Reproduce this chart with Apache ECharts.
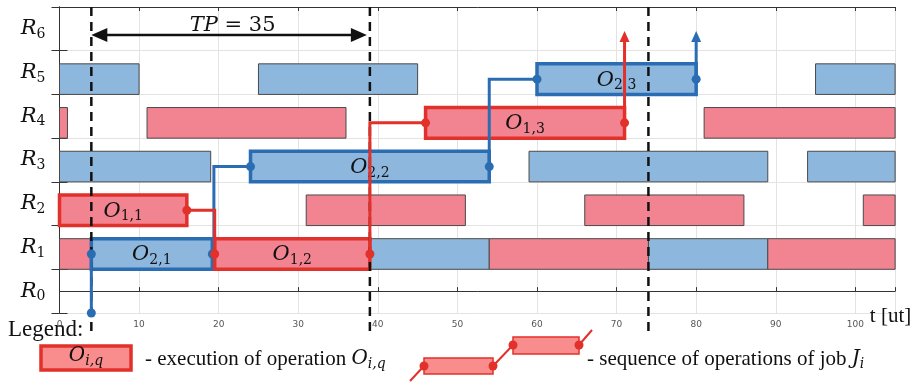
<!DOCTYPE html>
<html><head><meta charset="utf-8">
<script src="https://cdn.jsdelivr.net/npm/echarts@6/dist/echarts.min.js"></script>
<style>html,body{margin:0;padding:0;background:#fff}#c{width:914px;height:383px}</style>
</head><body><div id="c"></div>
<script>
// ---------- data ----------
const resources = ['R0','R1','R2','R3','R4','R5','R6'];
const xMin = 0, xMax = 105, xStep = 10;
// background operations: [resource row, start, end]
const blueOps = [[5,0,10],[5,25,45],[5,95,105],[3,0,19],[3,59,89],[3,94,105],[1,39,54],[1,74,89]];
const redOps  = [[4,0,1],[4,11,36],[4,81,105],[2,31,51],[2,66,86],[2,101,105],[1,0,4],[1,54,74],[1,89,105]];
// highlighted jobs: operations [row, start, end]
const job1Ops = [[2,0,16],[1,19.5,39],[4,46,71]];
const job1Names = ['1,1','1,2','1,3'];
const job1Transfer = [19.5, 39];   // time of vertical transfer between operations
const job1Release = null;
const job2Ops = [[1,4,19.2],[3,24,54],[5,60,80]];
const job2Names = ['2,1','2,2','2,3'];
const job2Transfer = [19.4, 54];
const job2Release = 4;
const periodMarks = [4, 39, 74];
const tpSpan = [4, 39];
const tpValue = 35;

// ---------- styles ----------
const BLUE = '#8db7dd', RED = '#f28391', EDGE = '#4a4a4a';
const BLUE_HI = '#2b6db3', RED_HI = '#e2312a';
const MATH = 'DejaVu Serif', TEXT = 'Liberation Serif';
const BAR_LO = -0.5, BAR_HI = 0.2, CENTER = -0.15;

function baseBar(fill) {
  return function (params, api) {
    const r = api.value(0), s = api.value(1), e = api.value(2);
    const a = api.coord([s, r + BAR_LO]), b = api.coord([e, r + BAR_HI]);
    return { type: 'rect', shape: { x: a[0], y: b[1], width: b[0] - a[0], height: a[1] - b[1] },
      style: { fill: fill, stroke: EDGE, lineWidth: 1 } };
  };
}
function mathRich(big, small) {
  return {
    o: { fontFamily: MATH, fontStyle: 'italic', fontSize: big, lineHeight: big + 4, fill: '#111', color: '#111' },
    s: { fontFamily: MATH, fontSize: small, lineHeight: 2, verticalAlign: 'bottom', fill: '#111', color: '#111' },
    si: { fontFamily: MATH, fontStyle: 'italic', fontSize: small, lineHeight: 2, verticalAlign: 'bottom', fill: '#111', color: '#111' }
  };
}
function opBar(fill, stroke, names) {
  return function (params, api) {
    const r = api.value(0), s = api.value(1), e = api.value(2);
    const a = api.coord([s, r + BAR_LO]), b = api.coord([e, r + BAR_HI]);
    const c = api.coord([(s + e) / 2, r + CENTER]);
    return { type: 'group', children: [
      { type: 'rect', shape: { x: a[0], y: b[1], width: b[0] - a[0], height: a[1] - b[1] },
        style: { fill: fill, stroke: stroke, lineWidth: 3.5 } },
      { type: 'text', style: { text: '{o|O}{s|' + names[params.dataIndex] + '}', x: c[0], y: c[1] + 1,
        align: 'center', verticalAlign: 'middle', rich: mathRich(21, 14) } }
    ] };
  };
}
function arrowHead(x, y, dir, color, len, half) {
  let pts;
  if (dir === 'up') pts = [[x, y], [x - half, y + len], [x + half, y + len]];
  else if (dir === 'left') pts = [[x, y], [x + len, y - half], [x + len, y + half]];
  else pts = [[x, y], [x - len, y - half], [x - len, y + half]];
  return { type: 'polygon', shape: { points: pts }, style: { fill: color } };
}
function jobPath(ops, transfer, release, color) {
  return function (params, api) {
    const i = params.dataIndex;
    const op = ops[i];
    const yc = op[0] + CENTER;
    const kids = [];
    const line = (pts) => kids.push({ type: 'polyline', shape: { points: pts.map(p => api.coord(p)) },
      style: { stroke: color, lineWidth: 3, fill: null } });
    const dot = (p) => { const q = api.coord(p); kids.push({ type: 'circle', shape: { cx: q[0], cy: q[1], r: 4.5 }, style: { fill: color } }); };
    if (i > 0) {
      const prev = ops[i - 1], t = transfer[i - 1], yp = prev[0] + CENTER;
      line([[prev[2], yp], [t, yp], [t, yc], [op[1], yc]]);
    }
    if (i === 0 && release !== null) {
      line([[release, -0.5], [op[1], yc]]);
      dot([release, -0.5]);
    }
    if (i === ops.length - 1) {
      const top = api.coord([op[2], 5.95]);
      const bot = api.coord([op[2], yc]);
      kids.push({ type: 'line', shape: { x1: bot[0], y1: bot[1], x2: top[0], y2: top[1] + 8 }, style: { stroke: color, lineWidth: 3 } });
      kids.push(arrowHead(top[0], top[1], 'up', color, 11, 5));
    }
    if (!(i === 0 && release === null)) dot([op[1], yc]);
    dot([op[2], yc]);
    return { type: 'group', children: kids };
  };
}

const chart = echarts.init(document.getElementById('c'), null, { renderer: 'canvas' });
const axisCol = '#333';
const option = {
  animation: false,
  grid: { left: 59.5, right: 14, top: 7, bottom: 70, containLabel: false },
  xAxis: [
    { type: 'value', min: xMin, max: xMax, interval: xStep, position: 'bottom',
      axisLine: { show: true, lineStyle: { color: axisCol, width: 1 } },
      axisTick: { show: true, inside: true, length: 4, lineStyle: { color: axisCol } },
      axisLabel: { show: true, margin: 7, fontFamily: 'DejaVu Sans', fontSize: 9, color: '#555',
        formatter: v => (v % xStep === 0 ? String(v) : '') },
      splitLine: { show: true, lineStyle: { color: '#e3e3e3', width: 1 } },
      name: 't [ut]', nameLocation: 'end', nameGap: 6,
      nameTextStyle: { fontFamily: TEXT, fontSize: 21, color: '#111', align: 'right', verticalAlign: 'top', padding: [15, 0, 0, 0] } },
    { type: 'value', min: xMin, max: xMax, interval: xStep, position: 'top',
      axisLine: { show: true, lineStyle: { color: axisCol, width: 1 } },
      axisTick: { show: true, inside: true, length: 4, lineStyle: { color: axisCol } },
      axisLabel: { show: false }, splitLine: { show: false } }
  ],
  yAxis: [
    { type: 'category', data: resources, position: 'left', boundaryGap: true,
      axisLine: { show: true, lineStyle: { color: axisCol, width: 1 } },
      axisTick: { show: true, inside: true, length: 8, lineStyle: { color: axisCol } },
      splitLine: { show: true, lineStyle: { color: '#e3e3e3', width: 1 } },
      axisLabel: { margin: 14, formatter: v => '{o|R}{s|' + v.slice(1) + '}', rich: mathRich(21, 14) } },
    { type: 'category', data: resources, position: 'right', boundaryGap: true,
      axisLine: { show: true, lineStyle: { color: axisCol, width: 1 } },
      axisTick: { show: true, inside: true, length: 8, lineStyle: { color: axisCol } },
      axisLabel: { show: false }, splitLine: { show: false } },
    { type: 'value', min: -0.5, max: 6.5, show: false }
  ],
  series: [
    { type: 'custom', xAxisIndex: 0, yAxisIndex: 2, data: blueOps, renderItem: baseBar(BLUE), silent: true },
    { type: 'custom', xAxisIndex: 0, yAxisIndex: 2, data: redOps, renderItem: baseBar(RED), silent: true },
    { type: 'custom', xAxisIndex: 0, yAxisIndex: 2, data: job2Ops, renderItem: opBar(BLUE, BLUE_HI, job2Names), silent: true },
    { type: 'custom', xAxisIndex: 0, yAxisIndex: 2, data: job1Ops, renderItem: opBar(RED, RED_HI, job1Names), silent: true },
    { type: 'custom', xAxisIndex: 0, yAxisIndex: 2, data: periodMarks.map(v => [v]), silent: true, clip: false,
      renderItem: function (params, api) {
        const a = api.coord([api.value(0), 6.5]), b = api.coord([api.value(0), -0.93]);
        return { type: 'line', shape: { x1: a[0], y1: a[1], x2: b[0], y2: b[1] },
          style: { stroke: '#111', lineWidth: 2.5, lineDash: [9, 6] } };
      } },
    { type: 'custom', xAxisIndex: 0, yAxisIndex: 2, data: [tpSpan], silent: true,
      renderItem: function (params, api) {
        const a = api.coord([api.value(0), 5.86]), b = api.coord([api.value(1), 5.86]);
        return { type: 'group', children: [
          { type: 'line', shape: { x1: a[0] + 10, y1: a[1], x2: b[0] - 10, y2: b[1] }, style: { stroke: '#111', lineWidth: 2.5 } },
          arrowHead(a[0], a[1], 'left', '#111', 16, 7),
          arrowHead(b[0] - 3, b[1], 'right', '#111', 16, 7),
          { type: 'text', style: { text: '{i|TP}{n| = ' + tpValue + '}', x: (a[0] + b[0]) / 2 + 2, y: a[1] - 9,
            align: 'center', verticalAlign: 'middle',
            rich: { i: { fontFamily: MATH, fontStyle: 'italic', fontSize: 21, fill: '#111' },
                    n: { fontFamily: MATH, fontSize: 21, fill: '#111' } } } }
        ] };
      } },
    { type: 'custom', xAxisIndex: 0, yAxisIndex: 2, data: job2Ops, renderItem: jobPath(job2Ops, job2Transfer, job2Release, BLUE_HI), silent: true, clip: false },
    { type: 'custom', xAxisIndex: 0, yAxisIndex: 2, data: job1Ops, renderItem: jobPath(job1Ops, job1Transfer, job1Release, RED_HI), silent: true, clip: false }
  ],
  graphic: [
    { type: 'text', left: 8, top: 318, style: { text: 'Legend:', fontFamily: TEXT, fontSize: 23, fill: '#111' } },
    { type: 'rect', shape: { x: 41, y: 346, width: 90, height: 24 }, style: { fill: '#f98c8c', stroke: RED_HI, lineWidth: 3.5 } },
    { type: 'text', x: 86, y: 356, style: { text: '{o|O}{si|i,q}', align: 'center', verticalAlign: 'middle', rich: mathRich(20, 14) } },
    { type: 'text', x: 145, y: 359, style: { text: '{t|- execution of operation }{o|O}{si|i,q}', align: 'left', verticalAlign: 'middle',
      rich: Object.assign({ t: { fontFamily: TEXT, fontSize: 21, fill: '#111' } }, mathRich(20, 14)) } },
    { type: 'line', shape: { x1: 410, y1: 381, x2: 424, y2: 366 }, style: { stroke: RED_HI, lineWidth: 2 } },
    { type: 'rect', shape: { x: 424, y: 358, width: 69, height: 16 }, style: { fill: '#f98c8c', stroke: RED_HI, lineWidth: 1.5 } },
    { type: 'line', shape: { x1: 493, y1: 366, x2: 513, y2: 345 }, style: { stroke: RED_HI, lineWidth: 2 } },
    { type: 'rect', shape: { x: 513, y: 337, width: 66, height: 17 }, style: { fill: '#f98c8c', stroke: RED_HI, lineWidth: 1.5 } },
    { type: 'line', shape: { x1: 579, y1: 345, x2: 592, y2: 330 }, style: { stroke: RED_HI, lineWidth: 2 } },
    { type: 'circle', shape: { cx: 424, cy: 366, r: 4.5 }, style: { fill: RED_HI } },
    { type: 'circle', shape: { cx: 493, cy: 366, r: 4.5 }, style: { fill: RED_HI } },
    { type: 'circle', shape: { cx: 513, cy: 345, r: 4.5 }, style: { fill: RED_HI } },
    { type: 'circle', shape: { cx: 579, cy: 345, r: 4.5 }, style: { fill: RED_HI } },
    { type: 'text', x: 587, y: 359, style: { text: '{t|- sequence of operations of job }{o|J}{si|i}', align: 'left', verticalAlign: 'middle',
      rich: Object.assign({ t: { fontFamily: TEXT, fontSize: 21, fill: '#111' } }, mathRich(20, 14)) } }
  ]
};
chart.setOption(option);
</script>
</body></html>
